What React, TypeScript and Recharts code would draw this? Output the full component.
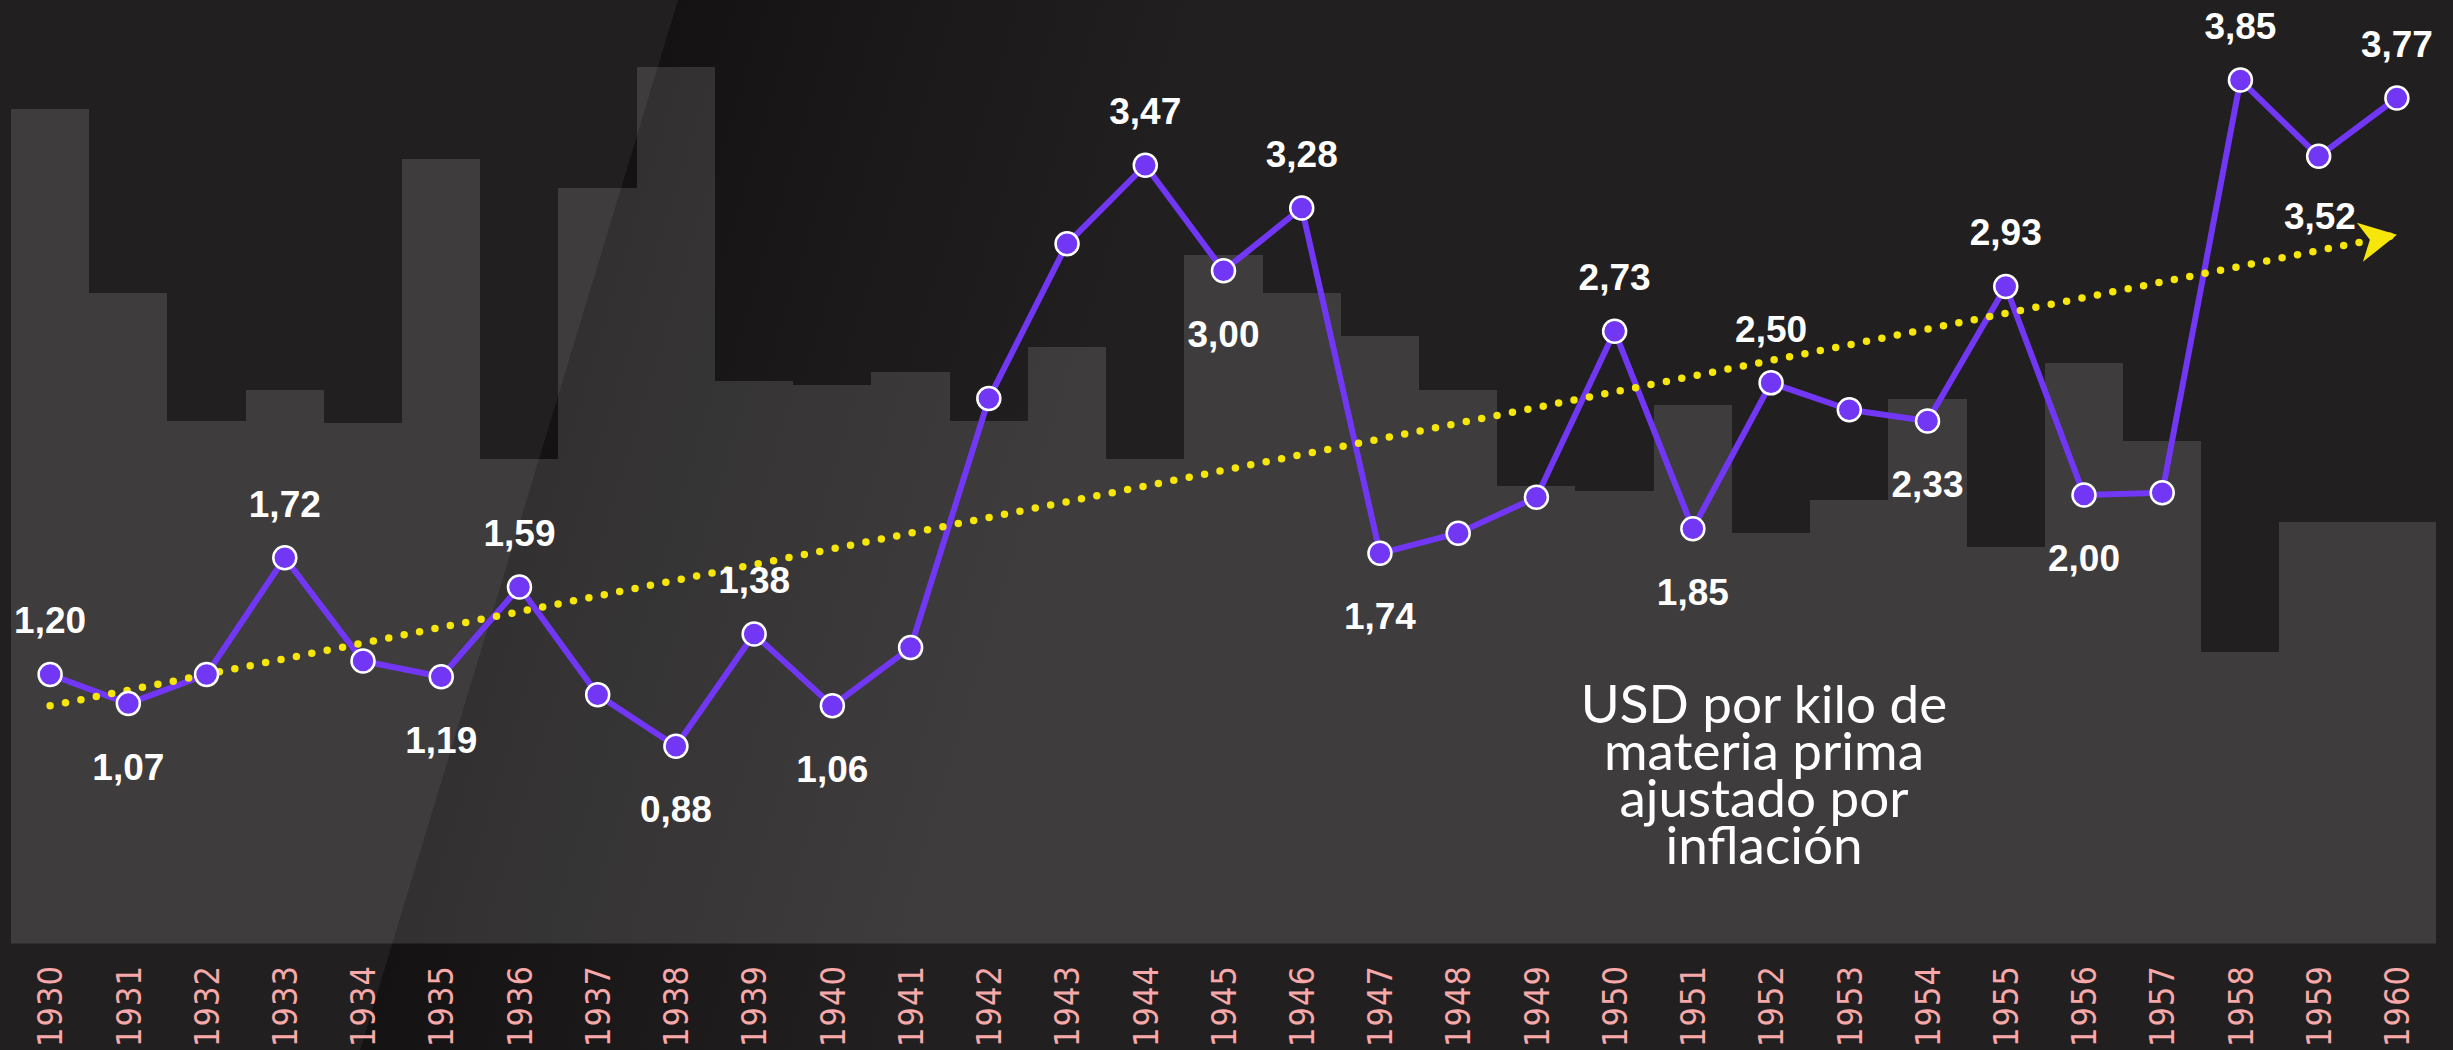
import { ComposedChart, Bar, Line, XAxis, YAxis, LabelList } from 'recharts'

const years = [
  '1930', '1931', '1932', '1933', '1934', '1935', '1936', '1937', '1938', '1939', '1940',
  '1941', '1942', '1943', '1944', '1945', '1946', '1947', '1948', '1949', '1950',
  '1951', '1952', '1953', '1954', '1955', '1956', '1957', '1958', '1959', '1960',
]

// USD por kilo, ajustado por inflación
const prices = [
  1.2, 1.07, 1.2, 1.72, 1.26, 1.19, 1.59, 1.11, 0.88, 1.38, 1.06,
  1.32, 2.43, 3.12, 3.47, 3.0, 3.28, 1.74, 1.83, 1.99, 2.73,
  1.85, 2.5, 2.38, 2.33, 2.93, 2.0, 2.01, 3.85, 3.51, 3.77,
]

// grey columns behind the line
const backdrop = [
  3.72, 2.9, 2.33, 2.47, 2.32, 3.5, 2.16, 3.37, 3.91, 2.51, 2.49,
  2.55, 2.33, 2.66, 2.16, 3.07, 2.9, 2.71, 2.47, 2.04, 2.02,
  2.4, 1.83, 1.98, 2.43, 1.77, 2.59, 2.24, 1.3, 1.88, 1.88,
]

const labelsAbove = ['1930', '1933', '1936', '1939', '1944', '1946', '1950', '1952', '1955', '1958', '1960']
const labelsBelow = ['1931', '1935', '1938', '1940', '1945', '1947', '1951', '1954', '1956']

const trendStart = 1.06
const trendEnd = 3.16
const trendLabel = '3,52'

const noteLines = ['USD por kilo de', 'materia prima', 'ajustado por', 'inflación']

const W = 2453
const H = 1050
const M_LEFT = 11
const M_RIGHT = 17
const BG = '#221f20'
const PURPLE = '#7237f4'
const YELLOW = '#f7e60a'
const COLUMN = 'rgba(255,255,255,0.13)'
const BAND = (W - M_LEFT - M_RIGHT) / years.length

const data = years.map((year, i) => ({
  year,
  price: prices[i],
  backdrop: backdrop[i],
  trend: i === 0 ? trendStart : i === years.length - 1 ? trendEnd : null,
}))

const fmt = (v: number) => v.toFixed(2).replace('.', ',')

// recharts truncates the bar width to whole pixels, so widen each column
// back to its band and snap the edges: neighbours then meet without seams
function Column({ x, y, width, height }: any) {
  const pad = (BAND - width) / 2
  const x0 = Math.round(x - pad + 0.001)
  const x1 = Math.round(x + width + pad + 0.001)
  const y0 = Math.round(y)
  const y1 = Math.round(y + height)
  return <rect x={x0} y={y0} width={x1 - x0} height={y1 - y0} fill={COLUMN} shapeRendering="crispEdges" />
}

function YearTick({ x, payload }: any) {
  const cy = 1006
  return (
    <text
      x={x}
      y={cy}
      dy="0.36em"
      transform={`rotate(-90, ${x}, ${cy})`}
      textAnchor="middle"
      fill="#f7a8a8"
      fontSize={34}
      fontFamily="'DejaVu Sans Condensed', 'DejaVu Sans', sans-serif"
      letterSpacing={1}
    >
      {payload.value}
    </text>
  )
}

function PriceLabel({ x, y, index }: any) {
  const year = years[index]
  let dy = 0
  if (labelsAbove.includes(year)) dy = -41
  else if (labelsBelow.includes(year)) dy = 76
  else return null
  return (
    <text
      x={x}
      y={y + dy}
      textAnchor="middle"
      fill="#ffffff"
      fontSize={37}
      fontWeight={700}
      fontFamily="'Liberation Sans', Arial, sans-serif"
    >
      {fmt(prices[index])}
    </text>
  )
}

function TrendArrow({ cx, cy, index }: any) {
  if (index !== years.length - 1) return <g key={`t-${index}`} />
  return (
    <g key={`t-${index}`}>
      <path
        d={`M${cx},${cy} L${cx - 40},${cy - 12} L${cx - 27},${cy + 5} L${cx - 34},${cy + 27} Z`}
        fill={YELLOW}
      />
      <text
        x={cx - 77}
        y={cy - 6}
        textAnchor="middle"
        fill="#ffffff"
        fontSize={37}
        fontWeight={700}
        fontFamily="'Liberation Sans', Arial, sans-serif"
      >
        {trendLabel}
      </text>
    </g>
  )
}

export default function App() {
  return (
    <div style={{ position: 'absolute', left: 0, top: 0, width: W, height: H, background: BG, overflow: 'hidden' }}>
      {/* diagonal shadow behind the chart */}
      <svg width={W} height={H} style={{ position: 'absolute', left: 0, top: 0 }}>
        <defs>
          <linearGradient id="shade" gradientUnits="userSpaceOnUse" x1={519} y1={525} x2={1010} y2={673}>
            <stop offset="0" stopColor="#000" stopOpacity={0.42} />
            <stop offset="0.25" stopColor="#000" stopOpacity={0.3} />
            <stop offset="1" stopColor="#000" stopOpacity={0} />
          </linearGradient>
        </defs>
        <polygon points={`678,0 ${W},0 ${W},${H} 360,${H}`} fill="url(#shade)" />
      </svg>

      <div style={{ position: 'absolute', left: 0, top: 0 }}>
        <ComposedChart
          width={W}
          height={H}
          data={data}
          margin={{ top: 0, right: M_RIGHT, bottom: 0, left: M_LEFT }}
          barCategoryGap={0}
          barGap={0}
        >
          <XAxis
            dataKey="year"
            axisLine={false}
            tickLine={false}
            height={106.4}
            interval={0}
            tick={<YearTick />}
          />
          <YAxis hide domain={[0, 4.207]} allowDataOverflow />
          <Bar dataKey="backdrop" fill={COLUMN} shape={<Column />} isAnimationActive={false} />
          <Line
            dataKey="price"
            stroke={PURPLE}
            strokeWidth={6}
            strokeLinejoin="round"
            dot={{ r: 11.5, fill: PURPLE, stroke: '#ffffff', strokeWidth: 2.5 }}
            activeDot={false}
            isAnimationActive={false}
          >
            <LabelList dataKey="price" content={<PriceLabel />} />
          </Line>
          <Line
            dataKey="trend"
            connectNulls
            stroke={YELLOW}
            strokeWidth={7.5}
            strokeDasharray="0 15.7"
            strokeLinecap="round"
            dot={(p: any) => <TrendArrow {...p} />}
            activeDot={false}
            isAnimationActive={false}
          />
        </ComposedChart>
      </div>

      <svg width={W} height={H} style={{ position: 'absolute', left: 0, top: 0, pointerEvents: 'none' }}>
        {noteLines.map((line, i) => (
          <text
            key={line}
            x={1764}
            y={723 + i * 47}
            textAnchor="middle"
            fill="#ffffff"
            fontSize={53}
            fontFamily="Lato, 'Open Sans', sans-serif"
          >
            {line}
          </text>
        ))}
      </svg>
    </div>
  )
}
